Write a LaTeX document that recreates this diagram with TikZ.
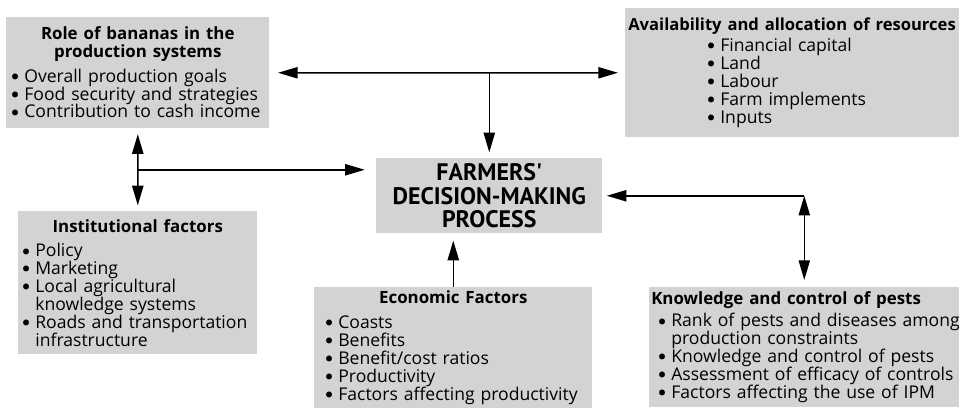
\documentclass[tikz,border=0pt]{standalone}
\usepackage{fontspec}
\setmainfont{Open Sans}
\newfontfamily\headfont{PT Sans}
\usetikzlibrary{arrows.meta,calc}
\definecolor{boxgray}{RGB}{211,211,211}
\newcommand{\bitem}[1]{\par\noindent\hangindent=0.8em\hangafter=1\makebox[0.8em][l]{\raisebox{-0.8pt}{\headfont\fontsize{15}{12}\selectfont\textbullet}}#1}
\newcommand{\boxtitle}{\bfseries\fontsize{12}{12.8}\selectfont}
\tikzset{
  infobox/.style={fill=boxgray, anchor=north west, inner xsep=0.1cm, inner ysep=0pt, align=left, font=\fontsize{12.5}{12.7}\selectfont},
  link/.style={-{Triangle[length=14pt,width=8pt]}, line width=1.1pt},
  duallink/.style={{Triangle[length=14pt,width=8pt]}-{Triangle[length=14pt,width=8pt]}, line width=1.1pt},
}
\begin{document}
\begin{tikzpicture}
    \useasboundingbox (0,0) rectangle (24.15,10.275);
    % boxes
    \node[infobox, text width=6.375cm, minimum height=2.775cm] (role) at (0.15,9.85) {%
      {\centering\boxtitle Role of bananas in the\\ production systems\par}\vspace{5pt}
      \bitem{Overall production goals}
      \bitem{Food security and strategies}
      \bitem{Contribution to cash income}\par};
    \node[infobox, inner xsep=0.075cm, text width=8.2cm, minimum height=3.225cm] (avail) at (15.625,10.075) {%
      {\boxtitle\fontsize{11.8}{12.8}\selectfont\mbox{Availability and allocation of resources}\par}\vspace{2pt}
      {\leftskip=1.95cm
      \bitem{Financial capital}
      \bitem{Land}
      \bitem{Labour}
      \bitem{Farm implements}
      \bitem{Inputs}\par}};
    \node[infobox, align=center, text width=5.45cm, minimum height=1.875cm,
      font=\headfont\fontsize{17}{16.6}\selectfont\bfseries] (dmp) at (9.4,6.325)
      {FARMERS\textquotesingle\\ DECISION-MAKING\\ PROCESS};
    \node[infobox, inner xsep=0.075cm, text width=5.825cm, minimum height=3.575cm] (inst) at (0.45,5.0) {%
      {\centering\boxtitle Institutional factors\par}\vspace{5pt}
      \bitem{Policy}
      \bitem{Marketing}
      \bitem{Local agricultural\newline knowledge systems}
      \bitem{Roads and transportation\newline infrastructure}\par};
    \node[infobox, text width=6.75cm, minimum height=3.025cm] (econ) at (7.85,3.1) {%
      {\centering\boxtitle Economic Factors\par}\vspace{5pt}
      {\leftskip=0.15cm
      \bitem{Coasts}
      \bitem{Benefits}
      \bitem{Benefit/cost ratios}
      \bitem{Productivity}
      \bitem{Factors affecting productivity}\par}};
    \node[infobox, inner xsep=0.05cm, text width=7.65cm, minimum height=3.0cm] (pests) at (16.225,3.1) {%
      {\boxtitle Knowledge and control of pests\par}\vspace{3pt}
      {\leftskip=0.15cm
      \bitem{\mbox{Rank of pests and diseases among}\newline production constraints}
      \bitem{Knowledge and control of pests}
      \bitem{Assessment of efficacy of controls}
      \bitem{Factors affecting the use of IPM}\par}};
    % connectors
    \coordinate (topjoin) at (dmp.north |- role.east);
    \coordinate (leftjoin) at ($(role.south)!0.5!(inst.north)$);
    \coordinate (rightjoin) at (pests.north |- dmp.east);
    \draw[duallink, shorten <=6pt, shorten >=5pt] (role.east) -- (avail.west);
    \draw[link, shorten >=4pt] (topjoin) -- (dmp.north);
    \draw[duallink, shorten <=4pt, shorten >=4pt] (role.south) -- (inst.north);
    \draw[link, shorten >=8pt] (leftjoin) -- (leftjoin -| dmp.west);
    \draw[link, shorten >=3pt] (rightjoin) -- (dmp.east);
    \draw[duallink, shorten >=5pt] (rightjoin) -- (pests.north);
    \draw[link, shorten >=5pt] (econ.north) -- (econ.north |- dmp.south);
\end{tikzpicture}
\end{document}
